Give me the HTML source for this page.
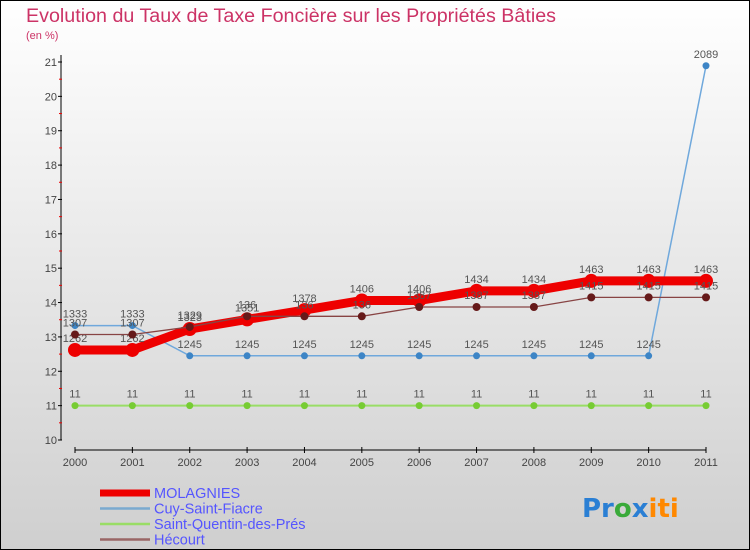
<!DOCTYPE html>
<html><head><meta charset="utf-8"><style>
html,body{margin:0;padding:0}
body{width:750px;height:550px;overflow:hidden;font-family:"Liberation Sans",sans-serif}
</style></head><body>
<svg id="chart" width="750" height="550" xmlns="http://www.w3.org/2000/svg" style="display:block">
<defs><linearGradient id="bg" x1="0" y1="0" x2="0" y2="1"><stop offset="0" stop-color="#ffffff"/><stop offset="1" stop-color="#cfcfcf"/></linearGradient></defs>
<rect x="0.5" y="0.5" width="749" height="549" fill="url(#bg)" stroke="#000"/>
<text x="26" y="22" font-size="19" fill="#cc3366" textLength="530" lengthAdjust="spacingAndGlyphs">Evolution du Taux de Taxe Foncière sur les Propriétés Bâties</text>
<text x="26" y="39" font-size="11" fill="#cc3366">(en %)</text>
<g id="axes"></g>
<g id="series"></g>
<g id="legend"></g>
<text x="582" y="517" font-size="26" font-family="'DejaVu Sans',sans-serif" font-weight="bold"><tspan fill="#2a7fd4">Pr</tspan><tspan fill="#3aaa3a">o</tspan><tspan fill="#2a7fd4">x</tspan><tspan fill="#ff8800">iti</tspan></text>
</svg>
<script>
const years=["2000","2001","2002","2003","2004","2005","2006","2007","2008","2009","2010","2011"];
const yTicks=[10,11,12,13,14,15,16,17,18,19,20,21];
const molagnies=[12.62,12.62,13.23,13.51,13.78,14.06,14.06,14.34,14.34,14.63,14.63,14.63];
const cuy=[13.33,13.33,12.45,12.45,12.45,12.45,12.45,12.45,12.45,12.45,12.45,20.89];
const stQuentin=[11,11,11,11,11,11,11,11,11,11,11,11];
const hecourt=[13.07,13.07,13.29,13.6,13.6,13.6,13.87,13.87,13.87,14.15,14.15,14.15];
const labelsMol=["12.62","12.62","13.23","13.51","13.78","14.06","14.06","14.34","14.34","14.63","14.63","14.63"];
const labelsCuy=["13.33","13.33","12.45","12.45","12.45","12.45","12.45","12.45","12.45","12.45","12.45","20.89"];
const labelsStq=["11","11","11","11","11","11","11","11","11","11","11","11"];
const labelsHec=["13.07","13.07","13.29","13.6","13.6","13.6","13.87","13.87","13.87","14.15","14.15","14.15"];
const NS="http://www.w3.org/2000/svg";
const X=i=>75+i*(706-75)/(years.length-1);
const Y=v=>440-(v-10)*(440-62)/11;
function mk(tag,attrs,parent){const e=document.createElementNS(NS,tag);for(const k in attrs)e.setAttribute(k,attrs[k]);parent.appendChild(e);return e;}
const axes=document.getElementById('axes');
let a=mk('line',{x1:61,y1:55,x2:61,y2:440,stroke:'#000'},axes);


yTicks.forEach(t=>{
  const l=mk('line',{x1:58,y1:Y(t),x2:62,y2:Y(t),stroke:'#000'},axes);
  
  
  const tx=mk('text',{x:57,y:Y(t)+4,'font-size':11,fill:'#444','text-anchor':'end'},axes);
  tx.textContent=t;
  
  
  if(t<21){const m=mk('line',{x1:59,y1:Y(t+0.5),x2:62,y2:Y(t+0.5),stroke:'#e00'},axes);
  
  }
});
a=mk('line',{x1:75,y1:450,x2:706,y2:450,stroke:'#000'},axes);


years.forEach((y,i)=>{
  const l=mk('line',{x1:X(i),y1:447,x2:X(i),y2:453,stroke:'#000'},axes);
  
  
  const tx=mk('text',{x:X(i),y:466,'font-size':11,fill:'#444','text-anchor':'middle'},axes);
  tx.textContent=y;
  
  
});
const sg=document.getElementById('series');
function series(name,vals,labels,color,w,r,dot){
  const g=mk('g',{},sg);
  
  
  const p=mk('polyline',{points:vals.map((v,i)=>X(i)+','+Y(v)).join(' '),fill:'none',stroke:color,'stroke-width':w},g);
  
  
  vals.forEach((v,i)=>{
    const c=mk('circle',{cx:X(i),cy:Y(v),r:r,fill:dot},g);
    
    
    const t=mk('text',{x:X(i),y:Y(v)-8,'font-size':11,fill:'#555','text-anchor':'middle'},g);
    t.textContent=labels[i].replace('.','');
    
    
  });
}
series('saint-quentin',stQuentin,labelsStq,'#99dd66',2,3.5,'#77cc33');
series('cuy-saint-fiacre',cuy,labelsCuy,'#6fa8dc',1.5,3.5,'#3d85c6');
series('molagnies',molagnies,labelsMol,'#ee0000',9,7,'#ee0000');
series('hecourt',hecourt,labelsHec,'#884444',1.3,4,'#661a1a');
const lg=document.getElementById('legend');
[['MOLAGNIES','#ee0000',7],['Cuy-Saint-Fiacre','#7aaad0',2.5],['Saint-Quentin-des-Prés','#99dd66',2.5],['Hécourt','#996666',2.5]].forEach((e,i)=>{
  const y=492+i*15.5;
  const l=mk('line',{x1:100,y1:y+1,x2:150,y2:y+1,stroke:e[1],'stroke-width':e[2]},lg);
  
  
  const t=mk('text',{x:154,y:y+6,'font-size':14.5,fill:'#5555ff'},lg);
  t.textContent=e[0];
  
  
});
</script>
</body></html>
